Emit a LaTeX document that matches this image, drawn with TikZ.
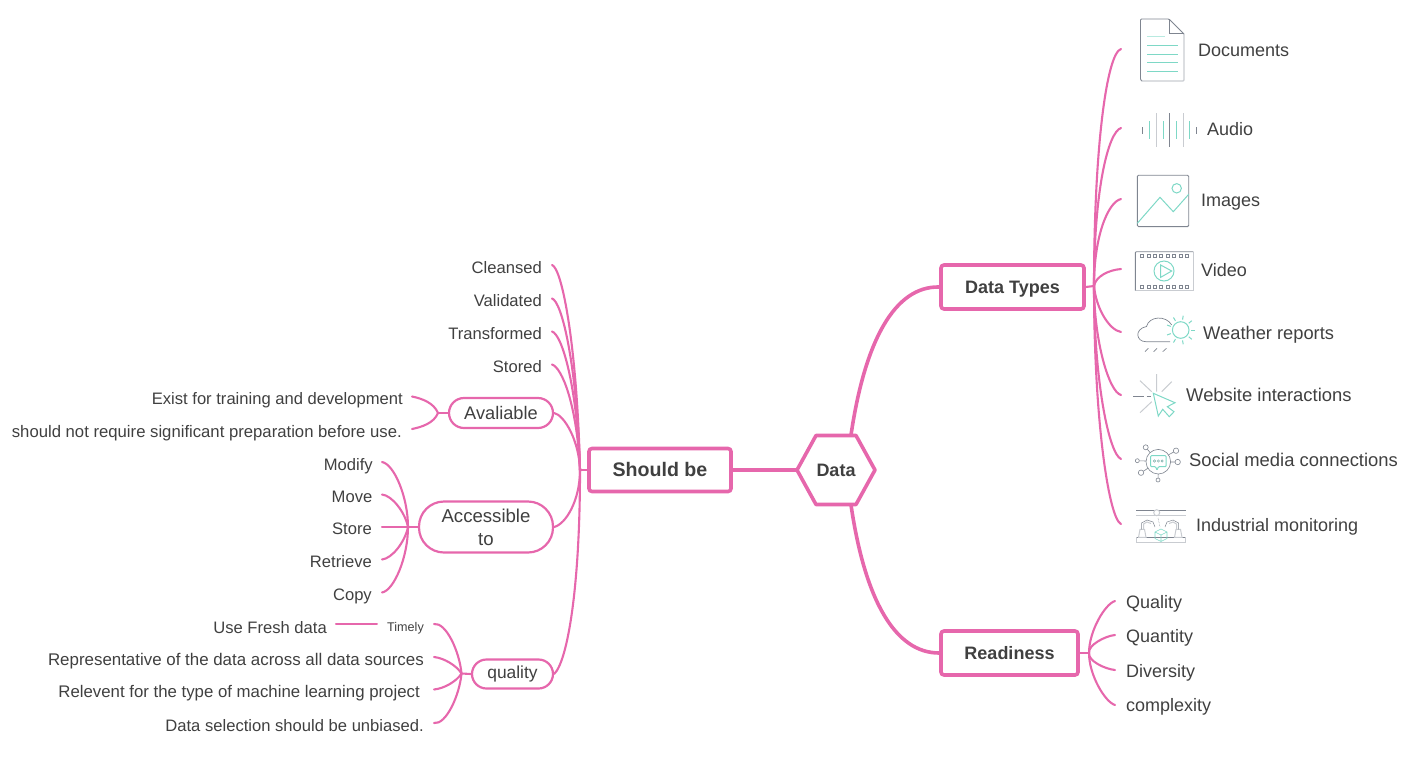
\documentclass[tikz,border=0pt]{standalone}
\usepackage{fontspec}
\setmainfont{Liberation Sans}
\usetikzlibrary{calc}
\definecolor{mmpink}{HTML}{E667AC}
\definecolor{mmtext}{HTML}{404040}
\definecolor{icgray}{HTML}{7F8590}
\definecolor{iclight}{HTML}{C9CCD1}
\definecolor{icteal}{HTML}{7ED8C6}
\tikzset{
  mainbox/.style={draw=mmpink,line width=3.6pt,rounded corners=3pt,fill=white,text=mmtext,font=\fontsize{18}{22}\bfseries\selectfont,inner sep=0pt,text height=13pt,text depth=0pt},
  pill/.style={draw=mmpink,line width=2.2pt,fill=white,text=mmtext,font=\fontsize{18.2}{23}\selectfont,inner sep=0pt,align=center},
  lbl/.style={text=mmtext,font=\fontsize{16.6}{20}\selectfont,inner ysep=0pt,text height=17pt,text depth=1pt},
  rlbl/.style={text=mmtext,font=\fontsize{18}{22}\selectfont,inner ysep=0pt,inner xsep=0pt,text height=15pt,text depth=2pt,anchor=west},
  trunk/.style={draw=mmpink,line width=3.6pt},
  twig/.style={draw=mmpink,line width=2.1pt,line cap=round},
  gl/.style={draw=icgray,line width=.9pt},
  ll/.style={draw=iclight,line width=1pt},
  tl/.style={draw=icteal,line width=1pt},
}
\begin{document}
\begin{tikzpicture}[x=1pt,y=-1pt]
\useasboundingbox (0,0) rectangle (1411,761);
% centre nodes
\node[mainbox,minimum width=142pt,minimum height=43pt,font=\fontsize{19.6}{22}\bfseries\selectfont] (sb) at (660,470) {Should be};
\node[mainbox,minimum width=143pt,minimum height=44pt] (dt) at (1012.5,287) {Data Types};
\node[mainbox,minimum width=137pt,minimum height=44pt] (rd) at (1009.5,653) {Readiness};
\coordinate (hexL) at (797,470);
\coordinate (hexT) at (851,435);
\coordinate (hexB) at (851,505);
% hubs
\coordinate (hubL) at (580,470);
\coordinate (hubT) at (1094,286);
\coordinate (hubR) at (1089,653);
\coordinate (hubA) at (438,413);
\coordinate (hubB) at (408,527);
\coordinate (hubQ) at (461.5,673.5);
% pills
\node[pill,minimum width=104pt,minimum height=30pt,rounded corners=15pt] (av) at (501,413) {Avaliable};
\node[pill,minimum width=134pt,minimum height=51pt,rounded corners=25pt,font=\fontsize{18.6}{23}\selectfont] (ac) at (486,527) {Accessible\\to};
\node[pill,minimum width=81pt,minimum height=29pt,rounded corners=14.5pt,font=\fontsize{17.4}{22}\selectfont] (qu) at (512.5,674) {quality};
% left leaves
\node[lbl,anchor=east,inner xsep=10pt] (l1) at (552,265) {Cleansed};
\node[lbl,anchor=east,inner xsep=10pt] (l2) at (552,298.5) {Validated};
\node[lbl,anchor=east,inner xsep=10pt] (l3) at (552,331.5) {Transformed};
\node[lbl,anchor=east,inner xsep=10pt] (l4) at (552,364.5) {Stored};
\node[lbl,anchor=east,inner xsep=9pt] (a1) at (412,396.5) {Exist for training and development};
\node[lbl,anchor=east,inner xsep=10pt,font=\fontsize{16.7}{20}\selectfont] (a2) at (412,429) {should not require significant preparation before use.};
\node[lbl,anchor=east,inner xsep=9pt] (b1) at (382,462) {Modify};
\node[lbl,anchor=east,inner xsep=9.5pt] (b2) at (382,494.5) {Move};
\node[lbl,anchor=east,inner xsep=10pt,text height=16pt] (b3) at (382,527) {Store};
\node[lbl,anchor=east,inner xsep=10pt] (b4) at (382,559.5) {Retrieve};
\node[lbl,anchor=east,inner xsep=10pt] (b5) at (382,592.5) {Copy};
\node[anchor=east,inner xsep=10pt,inner ysep=0pt,text=mmtext,font=\fontsize{12.6}{15}\selectfont,text height=15pt,text depth=0pt] (q1) at (434,624) {Timely};
\node[lbl,anchor=east,inner xsep=10pt,font=\fontsize{16.9}{20}\selectfont] (q2) at (434,657) {Representative of the data across all data sources};
\node[lbl,anchor=east,inner xsep=14pt,font=\fontsize{16.8}{20}\selectfont] (q3) at (434,689.5) {Relevent for the type of machine learning project};
\node[lbl,anchor=east,inner xsep=10pt] (q4) at (434,723) {Data selection should be unbiased.};
\node[lbl,anchor=east,inner xsep=9pt,text height=19pt] (q0) at (336,624) {Use Fresh data};
% right labels
\node[rlbl] (t1) at (1198,50) {Documents};
\node[rlbl] (t2) at (1207,129) {Audio};
\node[rlbl] (t3) at (1201,200) {Images};
\node[rlbl] (t4) at (1201,270) {Video};
\node[rlbl,font=\fontsize{18.3}{22}\selectfont] (t5) at (1203,333) {Weather reports};
\node[rlbl,font=\fontsize{18.4}{22}\selectfont] (t6) at (1186,395) {Website interactions};
\node[rlbl,font=\fontsize{18.4}{22}\selectfont] (t7) at (1189,460) {Social media connections};
\node[rlbl] (t8) at (1196,525) {Industrial monitoring};
\coordinate (e1) at (1121,49);
\coordinate (e2) at (1121,128);
\coordinate (e3) at (1121,199);
\coordinate (e4) at (1121,269);
\coordinate (e5) at (1121,332);
\coordinate (e6) at (1121,395);
\coordinate (e7) at (1121,459);
\coordinate (e8) at (1121,524);
% readiness leaves
\node[rlbl,inner xsep=11pt,text height=17pt] (r1) at (1115,601) {Quality};
\node[rlbl,inner xsep=11pt,text height=17pt] (r2) at (1115,635) {Quantity};
\node[rlbl,inner xsep=11pt,text height=17pt] (r3) at (1115,670) {Diversity};
\node[rlbl,inner xsep=11pt] (r4) at (1115,705) {complexity};
% connectors
\draw[trunk] (hexL) -- (sb.east);
\draw[trunk] (hexT) .. controls (865,340) and (895,286) .. (dt.west);
\draw[trunk] (hexB) .. controls (865,600) and (895,653) .. (rd.west);
\draw[twig] (sb.west) -- (hubL);
\draw[twig] (dt.east) -- (hubT);
\draw[twig] (rd.east) -- (hubR);
\draw[twig] (av.west) -- (hubA);
\draw[twig] (ac.west) -- (hubB);
\draw[twig] (qu.west) -- (hubQ);
\draw[twig] (q0.east) -- (q1.west);
% trunk to right leaves
\draw[twig] (hubT) .. controls +(0,-140) and +(-14,4) .. (e1);
\draw[twig] (hubT) .. controls +(0,-95) and +(-13,4) .. (e2);
\draw[twig] (hubT) .. controls +(0,-50) and +(-13,3) .. (e3);
\draw[twig] (hubT) .. controls +(2,-10) and +(-12,1) .. (e4);
\draw[twig] (hubT) .. controls +(2,22) and +(-12,-2) .. (e5);
\draw[twig] (hubT) .. controls +(0,55) and +(-12,-3) .. (e6);
\draw[twig] (hubT) .. controls +(0,95) and +(-12,-5) .. (e7);
\draw[twig] (hubT) .. controls +(0,135) and +(-12,-5) .. (e8);
% trunk to left leaves
\draw[twig] (hubL) .. controls +(-3,-125) and +(10,3) .. (l1.east);
\draw[twig] (hubL) .. controls +(-3,-105) and +(10,3) .. (l2.east);
\draw[twig] (hubL) .. controls +(-3,-85) and +(10,3) .. (l3.east);
\draw[twig] (hubL) .. controls +(-3,-65) and +(10,3) .. (l4.east);
\draw[twig] (hubL) .. controls +(-1,-30) and +(10,2) .. (av.east);
\draw[twig] (hubL) .. controls +(0,30) and +(12,-3) .. (ac.east);
\draw[twig] (hubL) .. controls +(0,120) and +(13,-12) .. (qu.east);
% sub branches
\draw[twig] (hubA) .. controls +(-4,-10) and +(10,2) .. (a1.east);
\draw[twig] (hubA) .. controls +(-4,10) and +(10,-2) .. (a2.east);
\draw[twig] (hubB) .. controls +(0,-30) and +(12,2) .. (b1.east);
\draw[twig] (hubB) .. controls +(-3,-15) and +(10,1) .. (b2.east);
\draw[twig] (hubB) -- (b3.east);
\draw[twig] (hubB) .. controls +(-3,15) and +(10,-1) .. (b4.east);
\draw[twig] (hubB) .. controls +(0,30) and +(12,-2) .. (b5.east);
\draw[twig] (hubQ) .. controls +(-2,-22) and +(12,-2) .. (q1.east);
\draw[twig] (hubQ) .. controls +(-5,-8) and +(10,1) .. (q2.east);
\draw[twig] (hubQ) .. controls +(-5,8) and +(10,-1) .. (q3.east);
\draw[twig] (hubQ) .. controls +(-2,22) and +(12,2) .. (q4.east);
\draw[twig] (hubR) .. controls +(0,-22) and +(-10,3) .. (r1.west);
\draw[twig] (hubR) .. controls +(-1,-8) and +(-10,1) .. (r2.west);
\draw[twig] (hubR) .. controls +(-1,8) and +(-10,-1) .. (r3.west);
\draw[twig] (hubR) .. controls +(0,22) and +(-10,-3) .. (r4.west);
% hexagon on top
\draw[draw=mmpink,line width=3.6pt,fill=white,line join=round] (816,435.5) -- (856,435.5) -- (875,470) -- (856,504.5) -- (816,504.5) -- (797,470) -- cycle;
\node[text=mmtext,font=\fontsize{18}{22}\bfseries\selectfont,inner sep=0pt,text height=13pt,text depth=0pt] (dc) at (836,470) {Data};
% icon: document
\draw[ll,line width=1.2pt] (1184,34) -- (1184,80) -- (1183,81) -- (1142,81);
\draw[gl,rounded corners=1pt] (1142,81) -- (1140.5,80) -- (1140.5,19) -- (1169,19) -- (1184,34);
\draw[gl] (1169,19) -- (1169,33.5) -- (1184,33.5);
\draw[tl,draw opacity=.55] (1147,36) -- (1165,36);
\foreach \yy in {45,54,62,71} \draw[tl] (1147,\yy) -- (1178,\yy);
% icon: audio
\draw[gl] (1142,127) -- (1142,134) (1196,127) -- (1196,134) (1169,113) -- (1169,147);
\draw[ll] (1156,113) -- (1156,147) (1183,113) -- (1183,147);
\draw[tl] (1149,121) -- (1149,139) (1163,121) -- (1163,139) (1176,121) -- (1176,139) (1189,121) -- (1189,139);
% icon: image
\draw[gl,rounded corners=1.2pt] (1137.3,175.2) rectangle (1188.7,226.6);
\draw[tl] (1137.3,223.3) -- (1160,197.3) -- (1173.3,211.7) -- (1188.7,194.3);
\draw[tl] (1176.7,188.3) circle (4.7);
% icon: video
\draw[ll,line width=1.2pt] (1193.3,252) -- (1193.3,290.7) -- (1136,290.7);
\draw[gl,rounded corners=1pt] (1135.3,290.7) -- (1135.3,251.7) -- (1193.3,251.7);
\foreach \xx in {0,...,7} {
  \draw[gl,line width=.6pt] ({1140.5+\xx*6.4},254.7) rectangle +(3,3);
  \draw[gl,line width=.6pt] ({1140.5+\xx*6.4},284.8) rectangle +(3,3);
}
\draw[tl] (1164,271) circle (10);
\draw[tl] (1160.7,265) -- (1160.7,277.3) -- (1171.7,271) -- cycle;
% icon: weather
\draw[gl,line width=.7pt] (1170,341.7) -- (1146,341.7) .. controls (1136,341.7) and (1134,329) .. (1146.5,326.5) .. controls (1149,316) and (1166,315) .. (1171.7,325);
\draw[gl,line width=.7pt] (1145,351.7) -- (1148.3,348.3) (1153.6,351.7) -- (1157,348.3) (1162.7,351.7) -- (1166.5,348.3);
\draw[tl] (1180.7,330) circle (8.3);
\foreach \aa in {0,40,...,320} \draw[tl] ($(1180.7,330)+(\aa:10.5)$) -- ($(1180.7,330)+(\aa:14.5)$);
% icon: website
\draw[ll] (1156.7,374) -- (1156.7,391.7) (1140,380.7) -- (1151.7,391.7) (1171.7,381.7) -- (1161.7,391.7) (1140,412.7) -- (1151.7,401.7);
\draw[gl] (1133.3,396) -- (1144,396) (1146.5,396) -- (1150.7,396);
\draw[tl] (1153.3,393.3) -- (1175,402.7) -- (1167.3,406.7) -- (1174,411.7) -- (1169.3,416.7) -- (1162.7,409.3) -- (1158.3,416) -- cycle;
% icon: social
\draw[gl,line width=.6pt] (1158.3,461.7) circle (12.3);
\foreach \xx/\yy/\rr in {1145.7/447.3/2.5,1176/450.7/2.7,1137.3/460.7/2,1177.7/462/2.7,1141/472.7/2.7,1158/480/2} {
  \draw[gl,line width=.6pt] (\xx,\yy) circle (\rr);
}
\draw[gl,line width=.6pt] (1150,452.5) -- (1147.3,449.2) (1168.5,454.8) -- (1173.7,452) (1146,461) -- (1139.3,460.8) (1170.6,462) -- (1175,462) (1147.8,468.3) -- (1143.3,471.3) (1158.2,474) -- (1158.1,478);
\draw[tl,line width=1pt,rounded corners=.8pt] (1150.7,455.7) -- (1166,455.7) -- (1166,466.7) -- (1158.5,466.7) -- (1157,470) -- (1155.5,466.7) -- (1150.7,466.7) -- cycle;
\foreach \xx in {1154.5,1158.3,1162.1} \draw[icgray!50!icteal,line width=.5pt] (\xx,461) circle (1.2);
% icon: industrial
\draw[gl,line width=.8pt] (1136,510.7) -- (1185.7,510.7);
\draw[ll] (1136,515) -- (1185.7,515);
\draw[ll,fill=white] (1156.7,512.7) circle (3);
\draw[ll] (1136.7,537.3) -- (1136.7,542.3) -- (1185,542.3) -- (1185,537.3);
\draw[gl,line width=.6pt] (1136.7,537.3) -- (1185,537.3);
\draw[ll,fill=white] (1138.5,537.3) -- (1140,529.3) -- (1144.5,529.3) -- (1146,537.3) -- cycle;
\draw[ll,fill=white] (1174.5,537.3) -- (1176,529.3) -- (1180.5,529.3) -- (1182,537.3) -- cycle;
\draw[gl,line width=.5pt] (1141.5,529.3) -- (1141.5,523) -- (1147,520) -- (1153,522) -- (1155,527);
\draw[ll] (1143.5,529.3) -- (1143.5,524) -- (1147,522) -- (1151,523.5);
\draw[gl,line width=.5pt] (1178.5,529.3) -- (1178.5,523) -- (1173,520) -- (1167,522) -- (1165,527);
\draw[ll] (1176.5,529.3) -- (1176.5,524) -- (1173,522) -- (1169,523.5);
\draw[gl,line width=.5pt,densely dotted] (1158,518) -- (1160,527);
\draw[tl,line width=.6pt] (1161,529) -- (1167,532) -- (1167,538.5) -- (1161,541.5) -- (1155,538.5) -- (1155,532) -- cycle (1155,532) -- (1161,535) -- (1167,532) (1161,535) -- (1161,541.5);
\end{tikzpicture}
\end{document}
